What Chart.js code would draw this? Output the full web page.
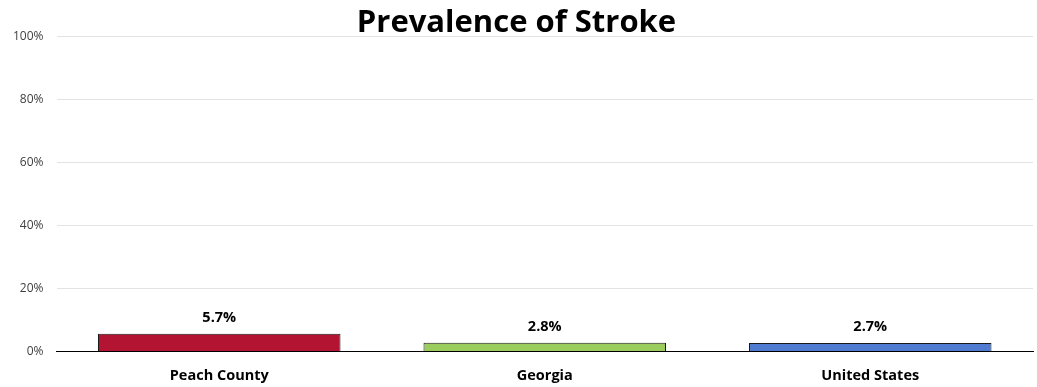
<!DOCTYPE html>
<html>
<head>
<meta charset="utf-8">
<script src="https://cdn.jsdelivr.net/npm/chart.js@4"></script>
<style>
html,body{margin:0;padding:0;background:#fff;}
#wrap{width:1037px;height:387px;position:relative;}
</style>
</head>
<body>
<div id="wrap"><canvas id="c"></canvas></div>
<script>
const categories = ["Peach County", "Georgia", "United States"];
const values = [5.7, 2.8, 2.7];
const valueLabels = ["5.7%", "2.8%", "2.7%"];
const barColors = ["#b31432", "#9acd5e", "#4f7bd0"];
const yTicks = [0, 20, 40, 60, 80, 100];
const chartTitle = "Prevalence of Stroke";

const FONT = "'Open Sans', 'Noto Sans', sans-serif";

const valueLabelPlugin = {
  id: 'valueLabels',
  afterDatasetsDraw(chart) {
    const ctx = chart.ctx;
    const meta = chart.getDatasetMeta(0);
    ctx.save();
    ctx.font = "bold 14.5px " + FONT;
    ctx.fillStyle = "#000";
    ctx.textAlign = "center";
    ctx.textBaseline = "bottom";
    meta.data.forEach((bar, i) => {
      ctx.fillText(valueLabels[i], bar.x, bar.y - 9);
    });
    ctx.restore();
  }
};

new Chart(document.getElementById('c'), {
  type: 'bar',
  data: {
    labels: categories,
    datasets: [{
      data: values,
      backgroundColor: barColors,
      borderColor: "#1a1a1a",
      borderWidth: 1,
      categoryPercentage: 0.745,
      barPercentage: 1.0
    }]
  },
  options: {
    responsive: true,
    maintainAspectRatio: false,
    animation: false,
    layout: { padding: { left: 0, right: 4, top: 0, bottom: -14 } },
    plugins: {
      legend: { display: false },
      tooltip: { enabled: false },
      title: {
        display: true,
        text: chartTitle,
        color: "#000",
        font: { family: FONT, size: 31, weight: 'bold', lineHeight: 0.87 },
        padding: { top: 10, bottom: 0 }
      }
    },
    scales: {
      x: {
        grid: { display: false, drawTicks: false },
        border: { color: "#000", width: 1 },
        ticks: {
          color: "#000",
          font: { family: FONT, size: 14.5, weight: 'bold' },
          padding: 16
        }
      },
      y: {
        min: 0,
        max: 100,
        afterBuildTicks(scale) { scale.ticks = yTicks.map(v => ({ value: v })); },
        grid: { color: "#e3e3e3", drawTicks: false },
        border: { display: false },
        ticks: {
          color: "#404040",
          font: { family: FONT, size: 12 },
          padding: 13,
          callback: v => v + "%"
        }
      }
    }
  },
  plugins: [valueLabelPlugin]
});
</script>
</body>
</html>
